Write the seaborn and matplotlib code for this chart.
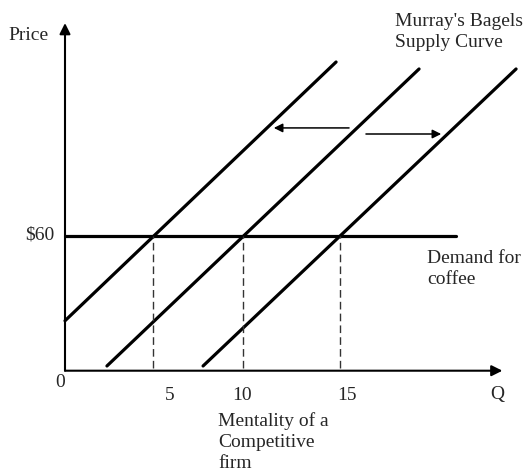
import numpy as np
import pandas as pd
import matplotlib.pyplot as plt
import seaborn as sns

# Supply curves (start / end points in Q, Price units)
supply_names = ["S1", "S2", "S3"]
supply_q = [[0.0, 15.06], [2.33, 19.67], [7.67, 25.06]]
supply_p = [[22.2, 137.2], [2.1, 134.1], [2.1, 134.1]]

# demand for coffee: flat at $60
demand_price = 60
demand_q = [0.0, 21.7]

# quantities where supply meets price
q_star = [4.9, 9.9, 15.3]
q_tick_pos = [5.83, 9.83, 15.67]
q_tick_labels = ["5", "10", "15"]

# axis extents
x_max = 24.3
y_max = 154.5

sns.set_theme(style="white")
plt.rcParams['font.family'] = ['Liberation Serif', 'DejaVu Serif']

fig = plt.figure(figsize=(5.24, 4.74), dpi=100)
ax = fig.add_axes([0, 0, 1, 1])
ax.set_xlim(-65 / 18, (524 - 65) / 18)
ax.set_ylim((370.7 - 474) / 2.25, 370.7 / 2.25)
ax.axis("off")

rows = []
for name, qs, ps in zip(supply_names, supply_q, supply_p):
    for q, p in zip(qs, ps):
        rows.append({"curve": name, "Q": q, "P": p})
df = pd.DataFrame(rows)
sns.lineplot(data=df, x="Q", y="P", units="curve", estimator=None,
             color="black", lw=2.3, ax=ax, sort=False)

# demand line
sns.lineplot(x=demand_q, y=[demand_price] * 2, color="black", lw=2.3, ax=ax)

# dashed drop lines
for q in q_star:
    ax.plot([q, q], [1.2, demand_price], color="#333333", lw=1.0,
            dashes=(5.5, 3))

# axes with arrowheads
ax.annotate("", xy=(0, y_max), xytext=(0, 0),
            arrowprops=dict(arrowstyle="-|>", mutation_scale=16, lw=1.5,
                            color="black", shrinkA=0, shrinkB=0))
ax.annotate("", xy=(x_max, 0), xytext=(0, 0),
            arrowprops=dict(arrowstyle="-|>", mutation_scale=16, lw=1.5,
                            color="black", shrinkA=0, shrinkB=0))

# shift arrows
ax.annotate("", xy=(11.6, 107.9), xytext=(15.78, 107.9),
            arrowprops=dict(arrowstyle="-|>", mutation_scale=13, lw=1.1,
                            color="black", shrinkA=0, shrinkB=0))
ax.annotate("", xy=(20.9, 105.2), xytext=(16.72, 105.2),
            arrowprops=dict(arrowstyle="-|>", mutation_scale=13, lw=1.1,
                            color="black", shrinkA=0, shrinkB=0))

fs = 14
ax.text(-3.17, 149.0, "Price", fontsize=fs, ha="left", va="center")
ax.text(-0.56, 60.3, "$60", fontsize=fs, ha="right", va="center")
ax.text(-0.28, -5.3, "0", fontsize=fs, ha="center", va="center")
for pos, lab in zip(q_tick_pos, q_tick_labels):
    ax.text(pos, -10.8, lab, fontsize=fs, ha="center", va="center")
ax.text(24.0, -10.8, "Q", fontsize=fs, ha="center", va="center")

ax.text(18.33, 150.5, "Murray's Bagels\nSupply Curve", fontsize=fs,
        ha="left", va="center", linespacing=1.3)
ax.text(20.1, 45.2, "Demand for\ncoffee", fontsize=fs,
        ha="left", va="center", linespacing=1.35)
ax.text(8.5, -31.6, "Mentality of a\nCompetitive\nfirm", fontsize=fs,
        ha="left", va="center", linespacing=1.3)

fig.savefig("out.png", dpi=100)
